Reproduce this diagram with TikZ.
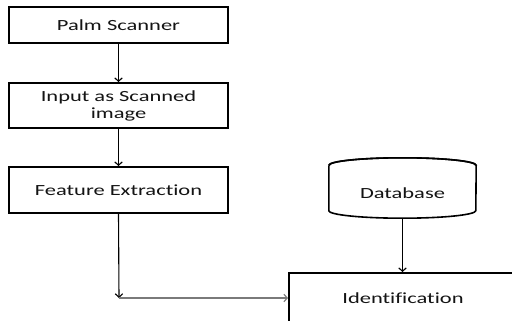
\documentclass[tikz,border=0pt]{standalone}
\usepackage{fontspec}
\setmainfont{Carlito}[Ligatures=NoCommon]
\usetikzlibrary{arrows.meta}
\definecolor{ink}{HTML}{141414}
\definecolor{feed}{HTML}{7A7A7A}
\tikzset{
  x=1pt, y=-1pt,
  label/.style={font=\fontsize{15.5}{17}\selectfont, text=ink, align=center},
  stepbox/.style={draw=black, line width=1.8pt, minimum width=219pt, inner sep=0pt},
  link/.style={draw=black, line width=1.1pt, -{Straight Barb[length=3.5pt,width=7.5pt]}},
}
\newcommand{\wide}[1]{\scalebox{1.45}[1]{#1}}
\begin{document}
\begin{tikzpicture}
\fill[white] (0,0) rectangle (512,321);
\useasboundingbox (0,0) rectangle (512,321);
\clip (0,0) rectangle (512,321);

% processing chain on the left
\node[stepbox, minimum height=36pt] (scan) at (118.5,25) {};
\node[label] at (scan) {\wide{Palm Scanner}};

\node[stepbox, minimum height=45pt] (input) at (118.5,105.5) {};
\node[label] at (input) {\wide{Input as Scanned}\\\wide{image}};

\node[stepbox, minimum height=46pt] (feat) at (118.5,190) {};
\node[label] at (feat) {\wide{Feature Extraction}};

% matching stage, running off the lower right edge
\node[stepbox, minimum width=228pt, minimum height=50pt] (ident) at (403,298) {};
\node[label] at (ident) {\wide{Identification}};

% database drum
\node[minimum width=147pt, minimum height=60pt, inner sep=0pt] (db) at (402.5,188) {};
\draw[line width=1.6pt, fill=white]
  ([yshift=-7.5pt]db.north west) -- ([yshift=7.5pt]db.south west)
  arc[start angle=180, end angle=360, x radius=73.5pt, y radius=7.5pt]
  -- ([yshift=-7.5pt]db.north east)
  arc[start angle=0, end angle=180, x radius=73.5pt, y radius=7.5pt];
\draw[line width=1.6pt] ([yshift=-7.5pt]db.north west)
  arc[start angle=180, end angle=360, x radius=73.5pt, y radius=-7.5pt];
\node[label] at (402.5,193) {\wide{Database}};

% connectors
\coordinate (join) at (119,298);
\draw[link] (scan.south) -- (input.north);
\draw[link] (input.south) -- (feat.north);
\draw[link] (feat.south) -- (join);
\draw[link, draw=feed] (join) -- (ident.west);
\draw[link] (db.south) -- (ident.north -| db.south);
\end{tikzpicture}
\end{document}
